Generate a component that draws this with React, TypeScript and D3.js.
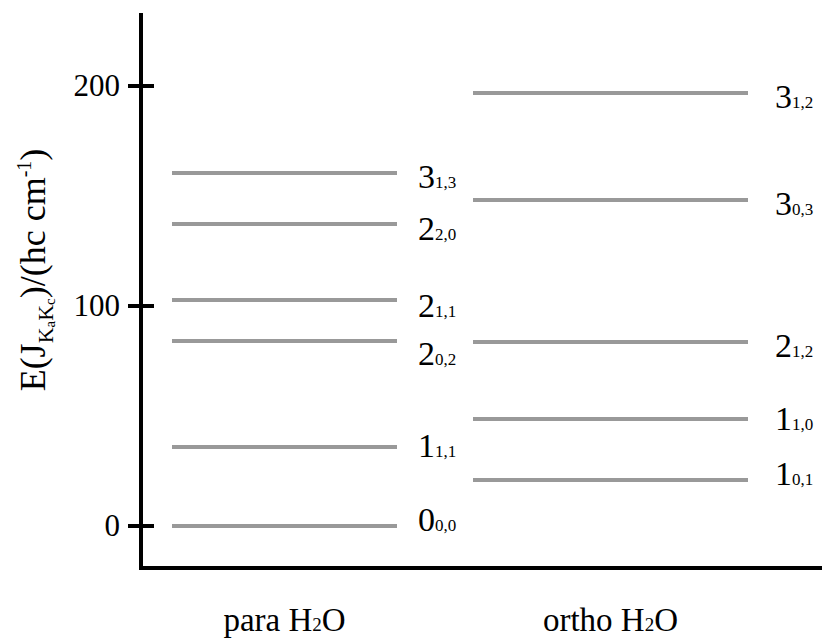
import React from "react";
import * as d3 from "d3";

const categories = ["para", "ortho"];
const categoryLabels = ["para H", "ortho H"];
const paraJ = ["3", "2", "2", "2", "1", "0"];
const paraK = ["1,3", "2,0", "1,1", "0,2", "1,1", "0,0"];
const paraE = [160.5, 137.3, 102.7, 84.1, 35.9, 0];
const orthoJ = ["3", "3", "2", "1", "1"];
const orthoK = ["1,2", "0,3", "1,2", "1,0", "0,1"];
const orthoE = [196.8, 148.2, 83.6, 48.6, 20.9];
const yTicks = [0, 100, 200];

// label baseline offsets (layout only)
const paraDy = [15, 16, 17, 24, 10, 5];
const orthoDy = [15, 15, 15, 11, 5];

const W = 824;
const H = 639;
const axisX = 141;
const axisBottom = 568;
const font = "'Liberation Serif', 'Times New Roman', serif";

export default function App() {
  const y = d3.scaleLinear().domain([0, 200]).range([526, 86]);
  const x = d3.scalePoint<string>().domain(categories).range([284.5, 610.5]);
  const halfW: Record<string, number> = { para: 112.5, ortho: 137.5 };
  const labelX: Record<string, number> = { para: 418, ortho: 775 };

  const groups = [
    { cat: "para", J: paraJ, K: paraK, E: paraE, dy: paraDy },
    { cat: "ortho", J: orthoJ, K: orthoK, E: orthoE, dy: orthoDy },
  ];

  return (
    <svg width={W} height={H} style={{ position: "absolute", left: 0, top: 0, background: "#fff" }}>
      <rect x={0} y={0} width={W} height={H} fill="#fff" />
      {/* axes */}
      <line x1={axisX} x2={axisX} y1={13} y2={axisBottom + 2} stroke="#000" strokeWidth={4} />
      <line x1={axisX - 2} x2={822} y1={axisBottom} y2={axisBottom} stroke="#000" strokeWidth={4} />
      {yTicks.map((t) => (
        <g key={t}>
          <line x1={axisX - 13} x2={axisX + 13} y1={y(t)} y2={y(t)} stroke="#000" strokeWidth={4} />
          <text x={120} y={y(t) + 10} textAnchor="end" fontFamily={font} fontSize={31} fill="#000">
            {t}
          </text>
        </g>
      ))}
      {/* y label */}
      <text
        transform={`translate(45, 270) rotate(-90)`}
        textAnchor="middle"
        fontFamily={font}
        fontSize={36}
        fill="#000"
      >
        E(J
        <tspan fontSize={22} dy={8}>K</tspan>
        <tspan fontSize={15} dy={2}>a</tspan>
        <tspan fontSize={22} dy={-2}>K</tspan>
        <tspan fontSize={15} dy={2}>c</tspan>
        <tspan dy={-10}>)/(hc cm</tspan>
        <tspan fontSize={20} dy={-14}>-1</tspan>
        <tspan dy={14}>)</tspan>
      </text>
      {/* levels */}
      {groups.map((g) => (
        <g key={g.cat}>
          {g.E.map((e, i) => (
            <g key={i}>
              <line
                x1={(x(g.cat) as number) - halfW[g.cat]}
                x2={(x(g.cat) as number) + halfW[g.cat]}
                y1={y(e)}
                y2={y(e)}
                stroke="#999"
                strokeWidth={4}
              />
              <text x={labelX[g.cat]} y={y(e) + g.dy[i]} fontFamily={font} fontSize={34} fill="#000">
                {g.J[i]}
                <tspan fontSize={17}>{g.K[i]}</tspan>
              </text>
            </g>
          ))}
        </g>
      ))}
      {/* category labels */}
      {categories.map((c, i) => (
        <text key={c} x={x(c) as number} y={631} textAnchor="middle" fontFamily={font} fontSize={33} fill="#000">
          {categoryLabels[i]}
          <tspan fontSize={19}>2</tspan>O
        </text>
      ))}
    </svg>
  );
}
